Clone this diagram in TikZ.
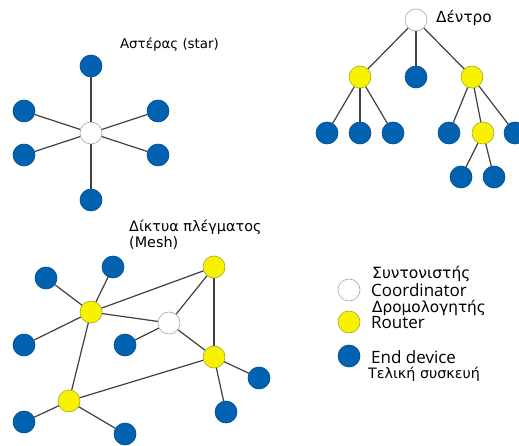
\documentclass[tikz,border=0pt]{standalone}
\usepackage{fontspec}
\setmainfont{DejaVu Sans}
\newfontfamily\engfont{Open Sans}
\definecolor{devblue}{RGB}{0,98,176}
\definecolor{devblueb}{RGB}{0,74,140}
\definecolor{rtyellow}{RGB}{248,242,0}
\definecolor{rtyellowb}{RGB}{170,165,40}
\definecolor{linegrey}{RGB}{64,64,64}
\begin{document}
\begin{tikzpicture}[x=1pt,y=-1pt,
  base/.style={circle,minimum size=22pt,inner sep=0pt,line width=0.6pt},
  enddev/.style={base,fill=devblue,draw=devblueb},
  router/.style={base,fill=rtyellow,draw=rtyellowb},
  coord/.style={base,fill=white,draw=gray!70},
  link/.style={draw=linegrey,line width=1.2pt},
  lbl/.style={inner sep=0pt,anchor=west},
  eng/.style={font=\engfont\fontsize{17}{19}\selectfont,inner sep=0pt,anchor=west}]
\useasboundingbox[fill=white] (0,0) rectangle (519,446);

% ---------- Star ----------
\node[inner sep=0pt,font=\fontsize{13.4}{15}\selectfont] (tstar) at (169.5,45) {Αστέρας (star)};
\node[coord]   (sc) at (91,133) {};
\node[enddev] (s1) at (91,66) {};
\node[enddev] (s2) at (24,111) {};
\node[enddev] (s3) at (158,111) {};
\node[enddev] (s4) at (24,155) {};
\node[enddev] (s5) at (158,155) {};
\node[enddev] (s6) at (91,200) {};
\foreach \n in {s1,s2,s3,s4,s5,s6} {\draw[link] (sc) -- (\n);}

% ---------- Tree ----------
\node[lbl,font=\fontsize{15.3}{17}\selectfont] (ttree) at (436,18) {Δέντρο};
\node[coord]  (t0) at (416,20) {};
\node[router] (tr1) at (360,77) {};
\node[enddev] (tb1) at (416,77) {};
\node[router] (tr2) at (472,77) {};
\node[enddev] (tb2) at (327,133) {};
\node[enddev] (tb3) at (360,133) {};
\node[enddev] (tb4) at (393,133) {};
\node[enddev] (tb5) at (449,133) {};
\node[router] (tr3) at (483,133) {};
\node[enddev] (tb6) at (515,133) {};
\node[enddev] (tb7) at (461,177) {};
\node[enddev] (tb8) at (494,177) {};
\draw[link] (t0) -- (tr1);
\draw[link] (t0) -- (tb1);
\draw[link] (t0) -- (tr2);
\draw[link] (tr1) -- (tb2);
\draw[link] (tr1) -- (tb3);
\draw[link] (tr1) -- (tb4);
\draw[link] (tr2) -- (tb5);
\draw[link] (tr2) -- (tr3);
\draw[link] (tr2) -- (tb6);
\draw[link] (tr3) -- (tb7);
\draw[link] (tr3) -- (tb8);

% ---------- Mesh ----------
\node[lbl,font=\fontsize{14.4}{16}\selectfont] (tmesh1) at (129,227) {Δίκτυα πλέγματος};
\node[lbl,font=\fontsize{14.4}{16}\selectfont] (tmesh2) at (129,243) {(Mesh)};
\node[router] (my1) at (91,312) {};
\node[router] (my2) at (214,267) {};
\node[coord]  (mc)  at (169,323) {};
\node[router] (my3) at (214,357) {};
\node[router] (my4) at (69,401) {};
\node[enddev] (mb1) at (46,278) {};
\node[enddev] (mb2) at (113,267) {};
\node[enddev] (mb3) at (24,345) {};
\node[enddev] (mb4) at (125,345) {};
\node[enddev] (mb5) at (259,378) {};
\node[enddev] (mb6) at (226,412) {};
\node[enddev] (mb7) at (24,422) {};
\node[enddev] (mb8) at (125,434) {};
\draw[link] (mb1) -- (my1);
\draw[link] (mb2) -- (my1);
\draw[link] (my1) -- (mb3);
\draw[link] (my1) -- (my2);
\draw[link] (my1) -- (mc);
\draw[link] (my1) -- (my4);
\draw[link] (mc) -- (my2);
\draw[link] (mc) -- (mb4);
\draw[link] (mc) -- (my3);
\draw[link] (my2) -- (my3);
\draw[link] (my3) -- (mb5);
\draw[link] (my3) -- (mb6);
\draw[link] (my3) -- (my4);
\draw[link] (my4) -- (mb7);
\draw[link] (my4) -- (mb8);

% ---------- Legend ----------
\node[coord]  (lc) at (349,290) {};
\node[router] (lr) at (349,322) {};
\node[enddev] (lb) at (349,356) {};
\node[lbl,font=\fontsize{15.5}{17}\selectfont] (lct1) at (372,274) {Συντονιστής};
\node[eng]   (lct2) at (371,290) {Coordinator};
\node[lbl,font=\fontsize{15.3}{17}\selectfont] (lrt1) at (372,308) {Δρομολογητής};
\node[eng]   (lrt2) at (371,323) {Router};
\node[eng]   (lbt1) at (371,357) {End device};
\node[lbl,font=\fontsize{14.3}{16}\selectfont] (lbt2) at (368,374) {Τελική συσκευή};
\end{tikzpicture}
\end{document}
